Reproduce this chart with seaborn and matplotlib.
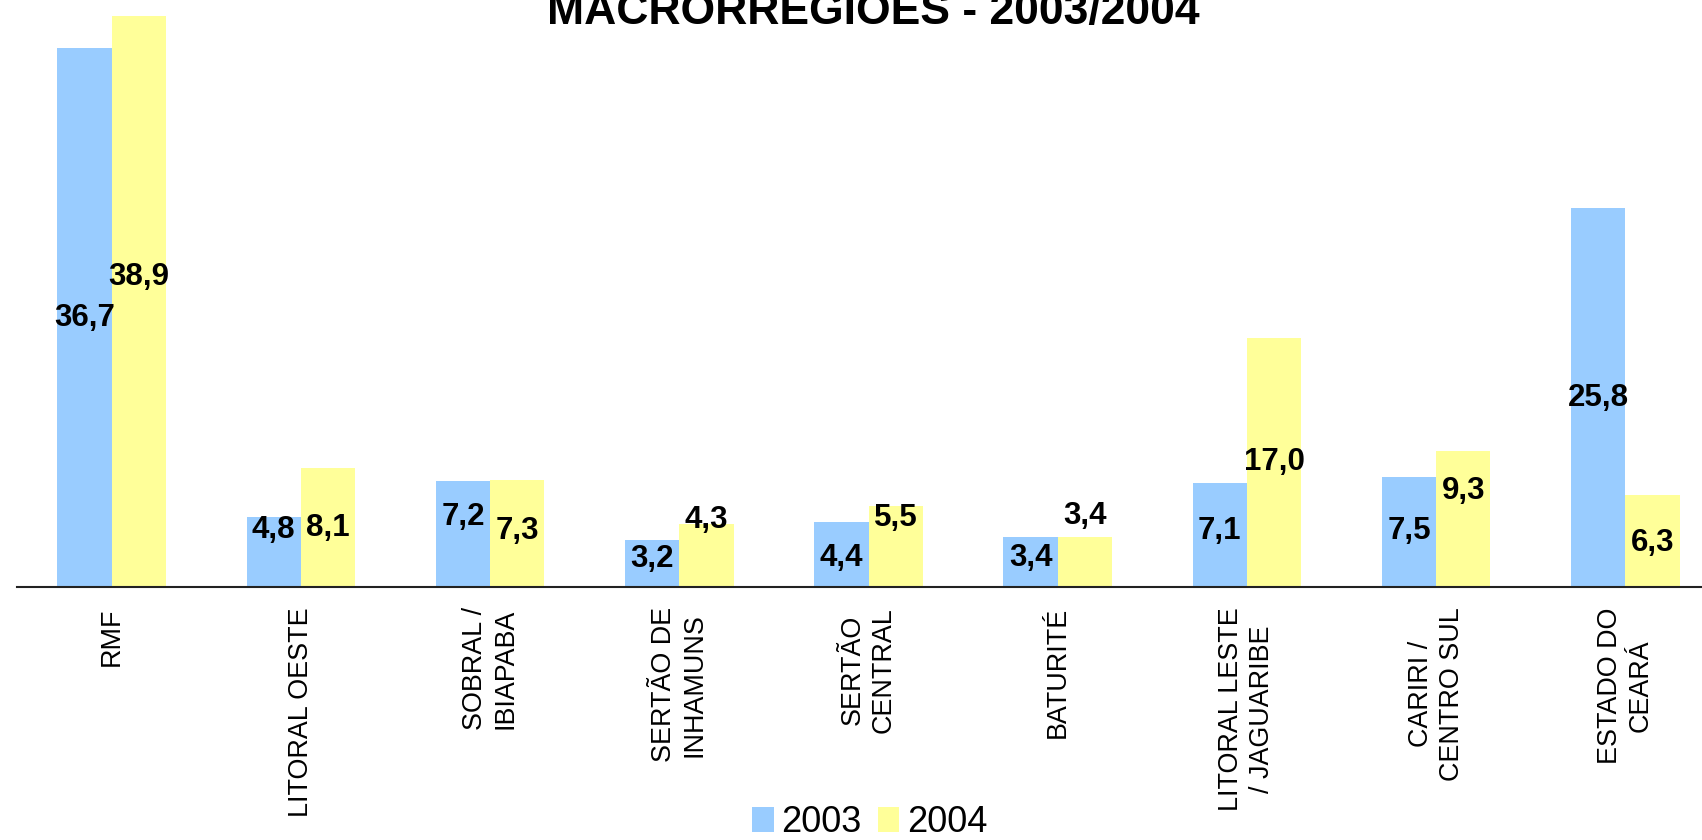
import pandas as pd
import seaborn as sns
from matplotlib import pyplot as plt
from matplotlib.patches import Patch

# data
categories = ["RMF", "LITORAL OESTE", "SOBRAL /\nIBIAPABA", "SERTÃO DE\nINHAMUNS",
              "SERTÃO\nCENTRAL", "BATURITÉ", "LITORAL LESTE\n/ JAGUARIBE",
              "CARIRI /\nCENTRO SUL", "ESTADO DO\nCEARÁ"]
years = ["2003", "2004"]
values_2003 = [36.7, 4.8, 7.2, 3.2, 4.4, 3.4, 7.1, 7.5, 25.8]
values_2004 = [38.9, 8.1, 7.3, 4.3, 5.5, 3.4, 17.0, 9.3, 6.3]
colors = ["#99CCFF", "#FFFF99"]

# vertical shift (pixels) of some value labels, as in the original
nudge_2003 = [0, 22, 17, 5, -3, 4, 4, 1, 0]
nudge_2004 = [25, 0, 2, 35, 29, 46, 0, 28, -2]

df = pd.DataFrame({
    "regiao": categories * 2,
    "ano": [years[0]] * len(categories) + [years[1]] * len(categories),
    "valor": values_2003 + values_2004,
})

sns.set_style("white")
plt.rcParams["font.family"] = ["Liberation Sans", "DejaVu Sans"]
plt.rcParams["text.color"] = "black"
plt.rcParams["xtick.color"] = "black"

fig = plt.figure(figsize=(17.02, 8.4), dpi=100)
ax = fig.add_axes([17 / 1702, 253 / 840, 1703 / 1702, 587 / 840])

sns.barplot(data=df, x="regiao", y="valor", hue="ano", order=categories,
            hue_order=years, palette=colors, width=0.574, linewidth=0,
            saturation=1, ax=ax, legend=False)

ax.set_xlim(-0.5, len(categories) - 0.5)
ax.set_ylim(0, 40)
ax.set_xlabel("")
ax.set_ylabel("")
ax.set_yticks([])
for s in ["left", "right", "top"]:
    ax.spines[s].set_visible(False)
ax.spines["bottom"].set_color("#222222")
ax.spines["bottom"].set_linewidth(1.5)

# category labels centred, tick marks on the boundaries
ax.set_xticks(range(len(categories)))
ax.set_xticklabels(categories, rotation=90, fontsize=19.4, va="top",
                   ha="center", multialignment="center", linespacing=1.25,
                   color="black")
ax.tick_params(axis="x", which="major", length=0, pad=14.5)
ax.set_xticks([i - 0.5 for i in range(len(categories) + 1)], minor=True)
ax.tick_params(axis="x", which="minor", length=7, width=1.2,
               color="#444444", direction="out")

# value labels in the middle of the bars
for cont, nudges in zip(ax.containers, [nudge_2003, nudge_2004]):
    for bar, dy in zip(cont, nudges):
        h = bar.get_height()
        ax.annotate(f"{h:.1f}".replace(".", ","),
                    (bar.get_x() + bar.get_width() / 2, h / 2),
                    xytext=(0, dy), textcoords="offset pixels",
                    ha="center", va="center", fontsize=22.5,
                    fontweight="bold", color="black")

fig.text(873 / 1702, 1 - 24 / 840, "MACRORREGIÕES - 2003/2004",
         ha="center", va="baseline", fontsize=32, fontweight="bold",
         color="black")

handles = [Patch(facecolor=c, edgecolor="none", label=y) for c, y in zip(colors, years)]
fig.legend(handles=handles, loc="center", bbox_to_anchor=(0.511, 0.021),
           ncol=2, frameon=False, fontsize=26, handlelength=0.6,
           handleheight=0.7, handletextpad=0.2, columnspacing=0.45)

fig.savefig("out.png", dpi=100)
